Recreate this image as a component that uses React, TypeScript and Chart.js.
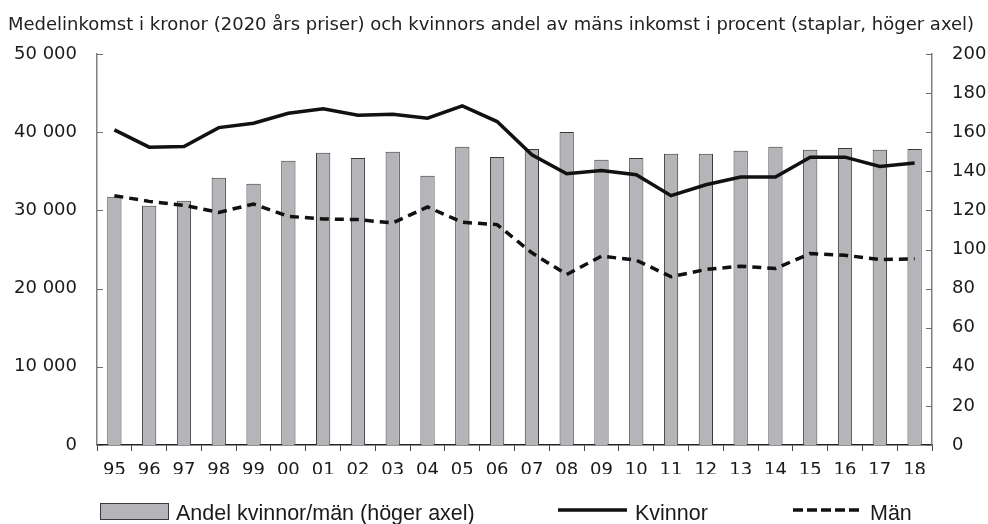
import React, { useEffect, useRef } from "react";
import { Chart, registerables } from "chart.js";
Chart.register(...registerables);

const years = ["95","96","97","98","99","00","01","02","03","04","05","06","07","08","09","10","11","12","13","14","15","16","17","18"];
const andel = [127,122.4,125,136.7,133.7,145.4,149.5,146.9,150,137.8,152.6,147.4,151.5,160.2,145.9,146.9,149,149,150.5,152.6,151,152,151,151.5];
const kvinnor = [40300,38100,38180,40600,41160,42430,43020,42180,42300,41800,43370,41370,37120,34690,35120,34570,31890,33290,34270,34270,36820,36820,35620,36060];
const man = [31890,31160,30650,29760,30820,29250,28910,28830,28400,30440,28490,28190,24580,21810,24150,23640,21520,22450,22870,22580,24490,24270,23720,23810];
const leftTickLabels = ["0","10 000","20 000","30 000","40 000","50 000"];
const rightTickLabels = ["0","20","40","60","80","100","120","140","160","180","200"];
const titleText = "Medelinkomst i kronor (2020 års priser) och kvinnors andel av mäns inkomst i procent (staplar, höger axel)";
const legendLabels = ["Andel kvinnor/män (höger axel)", "Kvinnor", "Män"];

const FONT = '"DejaVu Sans", sans-serif';
const LFONT = '"Liberation Sans", Arial, sans-serif';
const BAR_FILL = "#b5b5b9";
const BAR_BORDER = "#3a3a3a";

const innerTicks = {
  id: "innerTicks",
  afterDraw(chart: any) {
    const ctx = chart.ctx;
    ctx.save();
    ctx.strokeStyle = "#6e6e6e";
    ctx.lineWidth = 1;
    const y = chart.scales.y;
    const y1 = chart.scales.y1;
    y.ticks.forEach((t: any) => {
      const p = Math.round(y.getPixelForValue(t.value)) + 0.5;
      ctx.beginPath();
      ctx.moveTo(y.right, p);
      ctx.lineTo(y.right + 6, p);
      ctx.stroke();
    });
    y1.ticks.forEach((t: any) => {
      const p = Math.round(y1.getPixelForValue(t.value)) + 0.5;
      ctx.beginPath();
      ctx.moveTo(y1.left, p);
      ctx.lineTo(y1.left - 6, p);
      ctx.stroke();
    });
    ctx.font = "18px " + FONT;
    ctx.fillStyle = "#1a1a1a";
    ctx.textAlign = "left";
    ctx.textBaseline = "middle";
    y1.ticks.forEach((t: any) => {
      const p = y1.getPixelForValue(t.value);
      ctx.fillText(rightTickLabels[Math.round(Number(t.value) / 20)], y1.left + 20, p);
    });
    ctx.restore();
  },
};

const customLegend = {
  id: "customLegend",
  afterDraw(chart: any) {
    const ctx = chart.ctx;
    ctx.save();
    ctx.font = "21.5px " + LFONT;
    ctx.textBaseline = "middle";
    ctx.textAlign = "left";
    const ty = 506;
    ctx.fillStyle = BAR_FILL;
    ctx.fillRect(92, 495, 68, 16);
    ctx.strokeStyle = BAR_BORDER;
    ctx.lineWidth = 1;
    ctx.strokeRect(92.5, 495.5, 68, 16);
    ctx.fillStyle = "#1a1a1a";
    ctx.fillText(legendLabels[0], 168, ty);
    ctx.strokeStyle = "#111";
    ctx.lineWidth = 3.5;
    ctx.beginPath();
    ctx.moveTo(550, 502);
    ctx.lineTo(619, 502);
    ctx.stroke();
    ctx.fillText(legendLabels[1], 627, ty);
    ctx.setLineDash([10, 4]);
    ctx.beginPath();
    ctx.moveTo(785, 502);
    ctx.lineTo(855, 502);
    ctx.stroke();
    ctx.setLineDash([]);
    ctx.fillText(legendLabels[2], 862, ty);
    ctx.restore();
  },
};

export default function App() {
  const ref = useRef<HTMLCanvasElement | null>(null);
  useEffect(() => {
    document.documentElement.style.overflow = "hidden";
    const canvas = ref.current!;
    const chart = new Chart(canvas, {
      data: {
        labels: years,
        datasets: [
          {
            type: "line",
            label: legendLabels[1],
            data: kvinnor,
            yAxisID: "y",
            borderColor: "#111",
            borderWidth: 3.5,
            pointRadius: 0,
            tension: 0,
            order: 1,
          },
          {
            type: "line",
            label: legendLabels[2],
            data: man,
            yAxisID: "y",
            borderColor: "#111",
            borderWidth: 3.5,
            borderDash: [9, 6],
            pointRadius: 0,
            tension: 0,
            order: 2,
          },
          {
            type: "bar",
            label: legendLabels[0],
            data: andel,
            yAxisID: "y1",
            backgroundColor: BAR_FILL,
            borderColor: BAR_BORDER,
            borderWidth: 1,
            barPercentage: 0.41,
            categoryPercentage: 1,
            order: 3,
          },
        ],
      } as any,
      options: {
        responsive: false,
        animation: false,
        events: [],
        layout: { padding: { top: 0, bottom: 50, left: 0, right: 0 } },
        plugins: {
          legend: { display: false },
          tooltip: { enabled: false },
          title: {
            display: true,
            text: titleText,
            align: "start",
            color: "#222",
            font: { family: FONT, size: 18, weight: "normal" },
            padding: { top: 7, bottom: 17.5 },
          },
        },
        scales: {
          x: {
            type: "category",
            offset: true,
            grid: { display: true, offset: true, drawOnChartArea: false, tickLength: 6, color: "#444", lineWidth: 1 },
            border: { display: true, color: "#222", width: 1.5 },
            ticks: { color: "#1a1a1a", font: { family: FONT, size: 18 }, padding: 9, maxRotation: 0, autoSkip: false },
            afterFit: (s: any) => { s.height = 29; },
          },
          y: {
            type: "linear",
            position: "left",
            min: 0,
            max: 50000,
            grid: { display: false, drawTicks: false },
            border: { display: true, color: "#808080", width: 1.5 },
            ticks: {
              stepSize: 10000,
              color: "#1a1a1a",
              font: { family: FONT, size: 18 },
              padding: 20,
              callback: (v: any) => leftTickLabels[Math.round(Number(v) / 10000)],
            },
            afterFit: (s: any) => { s.width = 89; },
          },
          y1: {
            type: "linear",
            position: "right",
            min: 0,
            max: 200,
            grid: { display: false, drawTicks: false },
            border: { display: true, color: "#808080", width: 1.5 },
            ticks: {
              display: false,
              stepSize: 20,
              font: { family: FONT, size: 18 },
            },
            afterFit: (s: any) => { s.width = 56; },
          },
        },
      } as any,
      plugins: [innerTicks, customLegend],
    });
    return () => chart.destroy();
  }, []);
  return (
    <div style={{ position: "fixed", left: 8, top: 8, width: 980, height: 516 }}>
      <canvas ref={ref} width={980} height={516} style={{ display: "block", width: 980, height: 516 }} />
    </div>
  );
}
